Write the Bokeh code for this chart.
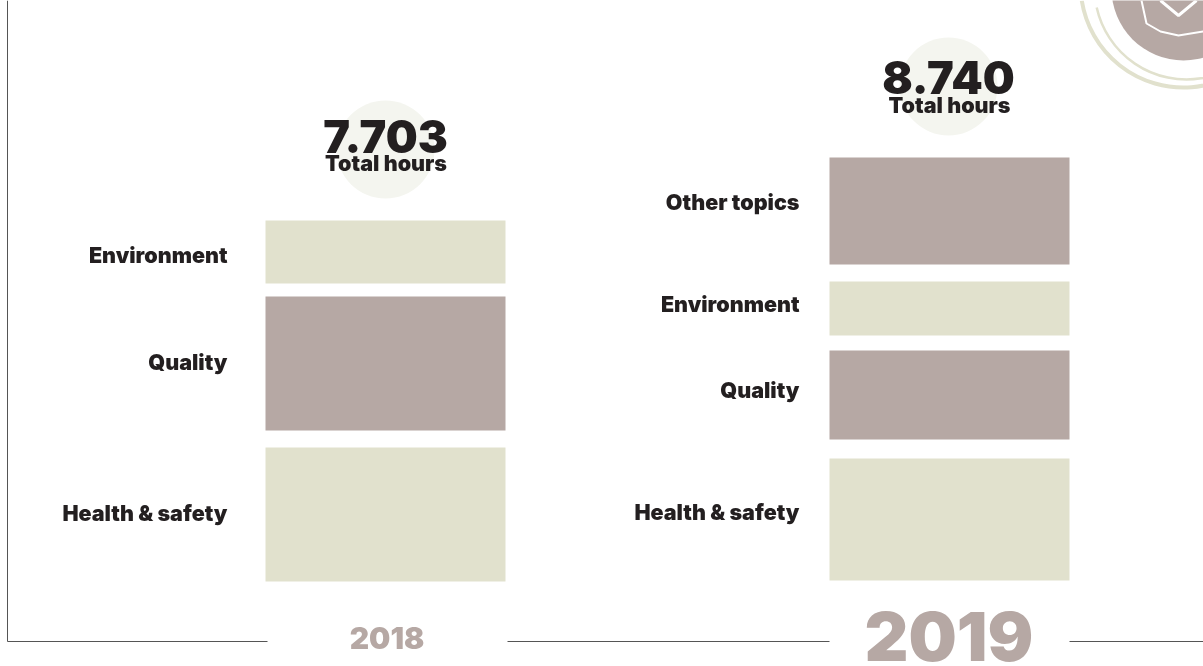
from bokeh.plotting import figure
from bokeh.models import Range1d, ColumnDataSource
from bokeh.core.properties import value
from bokeh.embed import file_html
from bokeh.resources import INLINE

# Data (hours)
years = ["2018", "2019"]
totals = ["7.703", "8.740"]
cats_2018 = ["Health & safety", "Quality", "Environment"]
hours_2018 = [3118, 3118, 1467]
cats_2019 = ["Health & safety", "Quality", "Environment", "Other topics"]
hours_2019 = [2866, 2092, 1269, 2513]

# Style / layout
TAUPE = "#b6a8a4"
BEIGE = "#e1e1cd"
PALE = "#f4f5ef"
INK = "#231f20"
LINE = "#555555"
FONT = value("Inter Black")
W, H = 1203, 666

p = figure(width=W, height=H, x_range=Range1d(0, W), y_range=Range1d(H, 0),
           output_backend="svg", toolbar_location=None, min_border=0,
           outline_line_color=None, x_axis_location=None, y_axis_location=None)
p.styles = {"position": "fixed", "left": "0px", "top": "0px"}
p.grid.visible = False
p.background_fill_color = "white"
p.border_fill_color = "white"


def panel(cats, hours, colors, base, gaps, px_per_hour, x0, x1, label_x, nudges):
    y = base
    bottoms, tops = [], []
    for h, g in zip(hours, gaps):
        top = y - h * px_per_hour
        bottoms.append(y)
        tops.append(top)
        y = top - g
    src = ColumnDataSource(dict(cat=cats, b=bottoms, t=tops, c=colors,
                                m=[(a + b) / 2 + n for a, b, n in zip(bottoms, tops, nudges)],
                                l=[x0] * len(cats), r=[x1] * len(cats),
                                lx=[label_x] * len(cats)))
    p.quad(left="l", right="r", bottom="b", top="t", fill_color="c", line_color=None, source=src)
    p.text(x="lx", y="m", text="cat", source=src, text_align="right", text_baseline="middle",
           text_font=FONT, text_font_size="21.5px", text_color=INK)


# Axis frame
p.line([7, 7, 267], [0, 641, 641], line_color=LINE, line_width=1)
p.line([507, 829], [641, 641], line_color=LINE, line_width=1)
p.line([1069, 1203], [641, 641], line_color=LINE, line_width=1)

# Total badges
p.circle(x=[385, 948], y=[149, 86], radius=49, fill_color=PALE, line_color=None)

panel(cats_2018, hours_2018, [BEIGE, TAUPE, BEIGE], 581, [17, 13, 0], 331 / 7703, 265, 505, 227,
      [-2, -2, 2.5])
panel(cats_2019, hours_2019, [BEIGE, TAUPE, BEIGE, TAUPE], 580, [19, 15, 17, 0], 372 / 8740, 829, 1069, 799,
      [-8, -5, -4.5, -8.5])

# Totals
p.text(x=[385, 948], y=[135.5, 77], text=totals, text_align="center", text_baseline="middle",
       text_font=FONT, text_font_size="45px", text_color=INK)
p.text(x=[385.5, 949], y=[162, 104], text=["Total hours", "Total hours"], text_align="center",
       text_baseline="middle", text_font=FONT, text_font_size="21.5px",
       text_color=INK)

# Year labels
p.text(x=[386.5], y=[637], text=[years[0]], text_align="center", text_baseline="middle",
       text_font=FONT, text_font_size="30px", text_color=TAUPE)
p.text(x=[948.5], y=[636], text=[years[1]], text_align="center", text_baseline="middle",
       text_font=FONT, text_font_size="68px", text_color=TAUPE)

# Logo, top right
p.circle(x=[1183], y=[-12], radius=72, fill_color=TAUPE, line_color=None)
p.arc(x=[1183], y=[-16], radius=[103], start_angle=0, end_angle=3.3, direction="clock",
      line_color=BEIGE, line_width=4)
p.arc(x=[1186], y=[-13], radius=[92], start_angle=0.1, end_angle=3.36, direction="clock",
      line_color=BEIGE, line_width=2.5)
p.line([1141, 1146, 1160, 1178, 1203], [0, 23, 31, 35, 31], line_color="white", line_width=2)
p.line([1160, 1178, 1196], [0, 15, 0], line_color="white", line_width=3)

open("out.html", "w").write(file_html(p, INLINE))
